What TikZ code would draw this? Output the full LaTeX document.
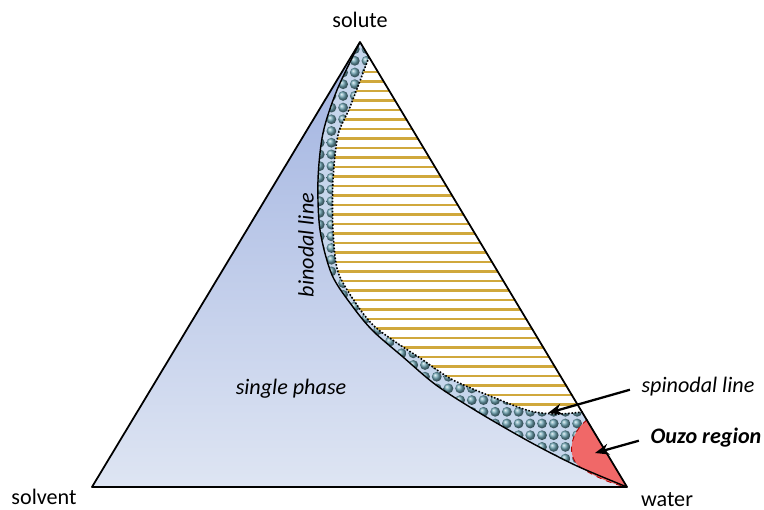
\documentclass[tikz,border=0pt]{standalone}
\usepackage{fontspec}
\setmainfont{Carlito}
\usepackage{tikz}
\usetikzlibrary{arrows.meta, calc, positioning}
\definecolor{phaseTop}{RGB}{160,178,224}
\definecolor{phaseBot}{RGB}{222,229,243}
\definecolor{bandBlue}{RGB}{198,214,236}
\definecolor{tieGold}{RGB}{208,168,60}
\definecolor{dropCol}{RGB}{110,165,180}
\definecolor{ouzoRed}{RGB}{240,104,104}
\tikzset{
  lbl/.style     ={font=\fontsize{12.6}{15}\selectfont, inner sep=1pt},
  ilbl/.style    ={lbl, font=\fontsize{12.6}{15}\selectfont\itshape},
  blbl/.style    ={lbl, font=\fontsize{12.6}{15}\selectfont\bfseries\itshape},
  edge/.style    ={line width=1pt, line join=round},
  binodal/.style ={line width=0.8pt},
  spinodal/.style={line width=0.9pt, densely dotted},
  tie/.style     ={line width=1.6pt, tieGold},                        % tie lines in two-phase part
  drop/.style    ={ball color=dropCol},
  pointer/.style ={-{Stealth[length=2.8mm, width=2.2mm]}, line width=1.3pt, shorten <=2mm},
}

\begin{document}
\begin{tikzpicture}[x=0.02cm, y=-0.02cm]
  \useasboundingbox (0,0) rectangle (764,510);

  % corners of the phase triangle
  \coordinate (A) at (360,42);
  \coordinate (B) at (92,487);
  \coordinate (C) at (627,487);

  % single phase background
  \shade[top color=phaseTop, bottom color=phaseBot] (A) -- (B) -- (C) -- cycle;

  % two-phase region (inside spinodal) is white
  \fill[white] plot[smooth] coordinates {(369,57) (350,107) (338,135) (333,180) (333,230)
      (338,272) (357,305) (374,326) (397,343) (420,358) (453,380) (500,400) (530,411) (556,414) (583,412)} -- cycle;

  % metastable band between binodal and spinodal
  \fill[bandBlue] plot[smooth] coordinates {(360,42) (337,90) (323,133) (318,180) (320,230)
      (332,275) (353,307) (373,331) (403,357) (436,385) (478,412) (530,442) (577,466) (627,487)}
    -- plot[smooth] coordinates {(583,412) (556,414) (530,411) (500,400) (453,380) (420,358)
      (397,343) (374,326) (357,305) (338,272) (333,230) (333,180) (338,135) (350,107) (369,57)} -- cycle;

  % droplets in the band
  \begin{scope}
    \clip plot[smooth] coordinates {(360,42) (337,90) (323,133) (318,180) (320,230)
        (332,275) (353,307) (373,331) (403,357) (436,385) (478,412) (530,442) (577,466) (627,487)}
      -- plot[smooth] coordinates {(583,412) (556,414) (530,411) (500,400) (453,380) (420,358)
        (397,343) (374,326) (357,305) (338,272) (333,230) (333,180) (338,135) (350,107) (369,57)} -- cycle;
    \foreach \i in {0,...,28}
      \foreach \j in {0,...,37}
        \shade[drop] ({296.3+11.7*\i},{49.1+11.7*\j}) circle[radius=0.098cm];
  \end{scope}

  % tie lines
  \begin{scope}
    \clip plot[smooth] coordinates {(369,57) (350,107) (338,135) (333,180) (333,230)
        (338,272) (357,305) (374,326) (397,343) (420,358) (453,380) (500,400) (530,411) (556,414) (583,412)} -- cycle;
    \foreach \k in {0,...,35}
      \draw[tie] (300,{72+9.5*\k}) -- (620,{72+9.5*\k});
  \end{scope}

  % Ouzo region
  \fill[ouzoRed] (587,420) .. controls (570,433) and (566,456) .. (580,467)
    .. controls (595,477) and (612,484) .. (C) -- cycle;
  \draw[red!70!black, dashed, line width=0.5pt] (587,420) .. controls (570,433) and (566,456) .. (580,467)
    .. controls (595,477) and (612,484) .. (C);

  % binodal and spinodal lines
  \draw[binodal] plot[smooth] coordinates {(360,42) (337,90) (323,133) (318,180) (320,230)
      (332,275) (353,307) (373,331) (403,357) (436,385) (478,412) (530,442) (577,466) (627,487)};
  \draw[spinodal] plot[smooth] coordinates {(369,57) (350,107) (338,135) (333,180) (333,230)
      (338,272) (357,305) (374,326) (397,343) (420,358) (453,380) (500,400) (530,411) (556,414) (583,412)};

  % triangle
  \draw[edge] (A) -- (B) -- (C) -- cycle;

  % labels
  \node[lbl]  (solute)  at (360,20)  {solute};
  \node[lbl]  (solvent) at (44,497)  {solvent};
  \node[lbl]  (water)   at (667,500) {water};
  \node[ilbl] (single)  at (291,389) {single phase};
  \node[ilbl, rotate=90] (binlbl) at (306,245) {binodal line};
  \node[ilbl] (spinlbl) at (698,387) {spinodal line};
  \node[blbl] (ouzolbl) at (706,438) {Ouzo region};

  % pointers
  \coordinate (spinTip) at (548,413);
  \coordinate (ouzoTip) at (595,453);
  \draw[pointer] (spinlbl.west) -- (spinTip);
  \draw[pointer] (ouzolbl.west) -- (ouzoTip);
\end{tikzpicture}
\end{document}
